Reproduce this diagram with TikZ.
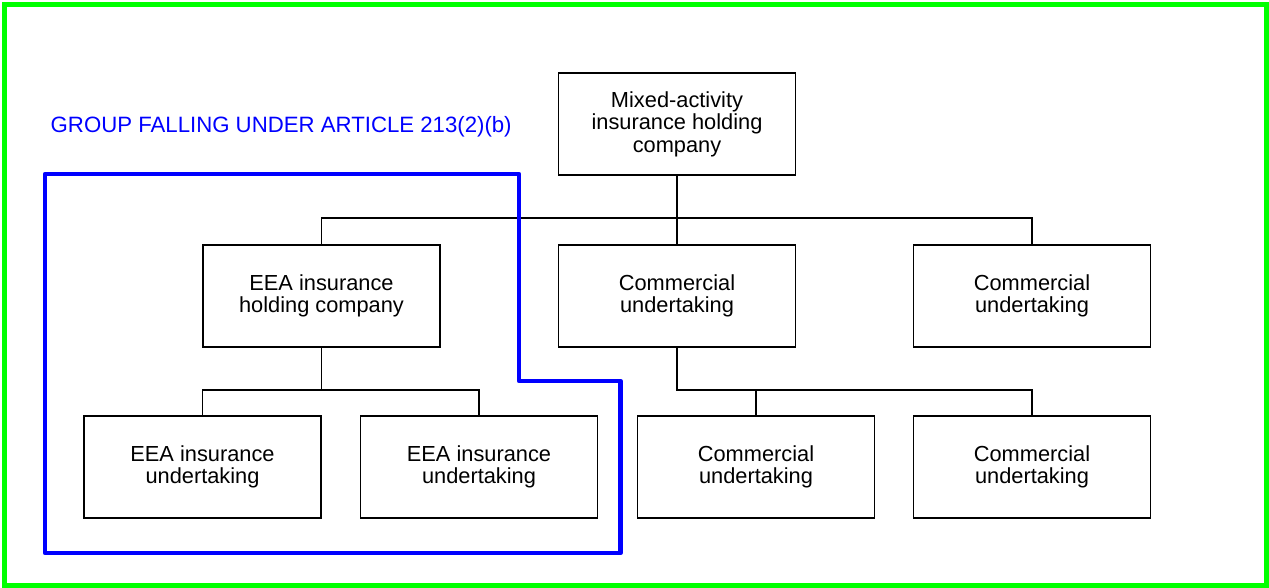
\documentclass[tikz,border=0pt]{standalone}
\usepackage{fontspec}
\setmainfont{Liberation Sans}
\definecolor{framegreen}{RGB}{0,255,0}
\definecolor{groupblue}{RGB}{0,0,255}
\begin{document}
\begin{tikzpicture}[x=1pt,y=-1pt,
  box/.style={draw=black, line width=1.8pt, minimum width=237pt, minimum height=102pt,
    inner sep=0pt, align=center, font=\fontsize{21.8}{22.5}\selectfont},
  conn/.style={draw=black, line width=1.8pt},
  grp/.style={draw=groupblue, line width=4.5pt, line join=round}]
\useasboundingbox (0,0) rectangle (1269,588);
\draw[framegreen, line width=5pt] (4.5,4.5) rectangle (1266.5,585.5);

\node[box] (top) at (677,124) {Mixed-activity\\insurance holding\\company};
\node[box] (h)  at (321.5,296) {EEA insurance\\holding company};
\node[box] (c1) at (677,296) {Commercial\\undertaking};
\node[box] (c3) at (1032,296) {Commercial\\undertaking};
\node[box] (u1) at (202.5,467) {EEA insurance\\undertaking};
\node[box] (u2) at (479,467) {EEA insurance\\undertaking};
\node[box] (u3) at (756,467) {Commercial\\undertaking};
\node[box] (u4) at (1032,467) {Commercial\\undertaking};

\coordinate (bus1) at (0,218);
\coordinate (bus2) at (0,390);
\draw[conn] (top.south) -- (c1.north);
\draw[conn] (h.north) |- (c3.north |- bus1) -- (c3.north);
\draw[conn] (h.south) -- (h.south |- bus2);
\draw[conn] (u1.north) |- (u2.north |- bus2) -- (u2.north);
\draw[conn] (c1.south) |- (u4.north |- bus2) -- (u4.north);
\draw[conn] (u3.north) -- (u3.north |- bus2);

\node[anchor=base west, inner sep=0pt, text=groupblue, font=\fontsize{22.2}{24}\selectfont] (lbl) at (50.5,133) {GROUP FALLING UNDER ARTICLE 213(2)(b)};
\draw[grp] (45,174) -- (519,174) -- (519,381) -- (620.5,381) -- (620.5,553) -- (45,553) -- cycle;
\end{tikzpicture}
\end{document}
